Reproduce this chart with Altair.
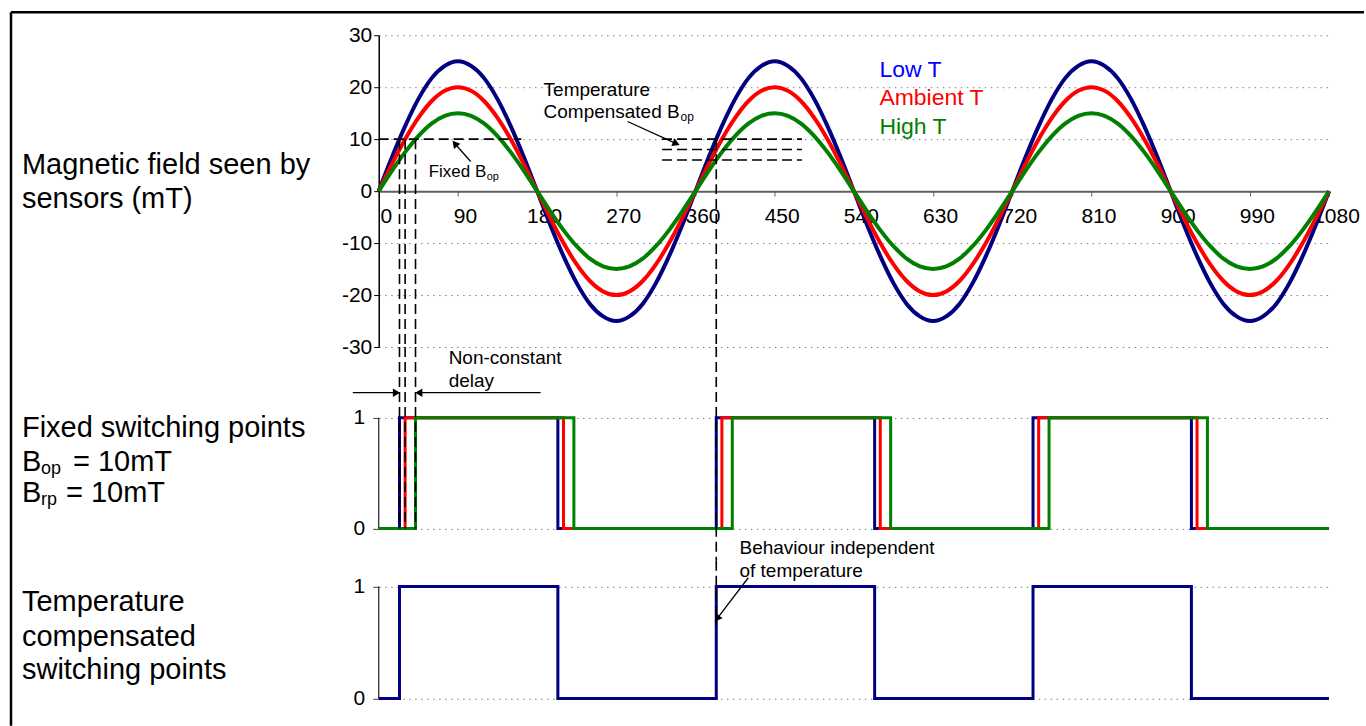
import altair as alt
import pandas as pd

FONT = "Liberation Sans"

# ---------------- data ----------------
angles = list(range(0, 1081, 15))

low_t = [
    0, 6.5, 12.5, 17.7, 21.7, 24.1, 25, 24.1, 21.7, 17.7, 12.5, 6.5,
    0, -6.5, -12.5, -17.7, -21.7, -24.1, -25, -24.1, -21.7, -17.7, -12.5, -6.5,
    0, 6.5, 12.5, 17.7, 21.7, 24.1, 25, 24.1, 21.7, 17.7, 12.5, 6.5,
    0, -6.5, -12.5, -17.7, -21.7, -24.1, -25, -24.1, -21.7, -17.7, -12.5, -6.5,
    0, 6.5, 12.5, 17.7, 21.7, 24.1, 25, 24.1, 21.7, 17.7, 12.5, 6.5,
    0, -6.5, -12.5, -17.7, -21.7, -24.1, -25, -24.1, -21.7, -17.7, -12.5, -6.5,
    0,
]
ambient_t = [
    0, 5.2, 10, 14.1, 17.3, 19.3, 20, 19.3, 17.3, 14.1, 10, 5.2,
    0, -5.2, -10, -14.1, -17.3, -19.3, -20, -19.3, -17.3, -14.1, -10, -5.2,
    0, 5.2, 10, 14.1, 17.3, 19.3, 20, 19.3, 17.3, 14.1, 10, 5.2,
    0, -5.2, -10, -14.1, -17.3, -19.3, -20, -19.3, -17.3, -14.1, -10, -5.2,
    0, 5.2, 10, 14.1, 17.3, 19.3, 20, 19.3, 17.3, 14.1, 10, 5.2,
    0, -5.2, -10, -14.1, -17.3, -19.3, -20, -19.3, -17.3, -14.1, -10, -5.2,
    0,
]
high_t = [
    0, 3.9, 7.5, 10.6, 13, 14.5, 15, 14.5, 13, 10.6, 7.5, 3.9,
    0, -3.9, -7.5, -10.6, -13, -14.5, -15, -14.5, -13, -10.6, -7.5, -3.9,
    0, 3.9, 7.5, 10.6, 13, 14.5, 15, 14.5, 13, 10.6, 7.5, 3.9,
    0, -3.9, -7.5, -10.6, -13, -14.5, -15, -14.5, -13, -10.6, -7.5, -3.9,
    0, 3.9, 7.5, 10.6, 13, 14.5, 15, 14.5, 13, 10.6, 7.5, 3.9,
    0, -3.9, -7.5, -10.6, -13, -14.5, -15, -14.5, -13, -10.6, -7.5, -3.9,
    0,
]

series_names = ["Low T", "Ambient T", "High T"]
line_colors = ["#000080", "#FF0000", "#008000"]
label_colors = ["#0000FF", "#FF0000", "#008000"]
legend_y = [23.4, 18.0, 12.3]
legend_x = 569

# switching edges (degrees) read from the middle / bottom panels
low_edges = [23.6, 203.6, 383.6, 563.6, 743.6, 923.6]
ambient_edges = [30.0, 210.0, 390.0, 570.0, 750.0, 930.0]
high_edges = [41.8, 221.8, 401.8, 581.8, 761.8, 941.8]
comp_edges = [23.6, 203.6, 383.6, 563.6, 743.6, 923.6]

x_ticks = list(range(0, 1081, 90))
field_ticks = [-30, -20, -10, 0, 10, 20, 30]
state_ticks = [0, 1]

fixed_bop = 10
comp_bop = [10, 8, 6]
fixed_cross = [23.6, 30.0, 41.8]
comp_cross = 383.6

# ---------------- layout ----------------
W = 951
HA, HB, HC = 312, 214, 152
XS = alt.Scale(domain=[0, 1080], nice=False, zero=False)
YA = alt.Scale(domain=[-30, 30], nice=False, zero=False)
YB = alt.Scale(domain=[-0.291, 1.637], nice=False, zero=False)
YC = alt.Scale(domain=[-0.128, 1.229], nice=False, zero=False)
GRID = "#808080"
DASH = [10, 5]
PLAIN = "'' + datum.value"

x_axis_a = alt.Axis(
    values=x_ticks, orient="bottom", offset=-HA / 2, title=None, grid=False,
    domainColor="#606060", domainWidth=2, tickColor="#606060", tickSize=5,
    labelFont=FONT, labelFontSize=21, labelColor="black", labelPadding=9, labelOffset=7,
    labelFlush=False, labelOverlap=False, labelExpr=PLAIN,
)
y_axis_a = alt.Axis(
    values=field_ticks, title=None, grid=True, gridColor=GRID, gridDash=[1.5, 4.5],
    gridWidth=1, domainColor="black", domainWidth=1.5, tickColor="black", tickSize=5,
    labelFont=FONT, labelFontSize=21, labelColor="black", labelPadding=2, labelExpr=PLAIN,
)
state_axis = alt.Axis(
    values=state_ticks, title=None, domain=False, grid=True, gridColor=GRID,
    gridDash=[1.5, 4.5], gridWidth=1, tickColor="#404040", tickSize=6,
    labelFont=FONT, labelFontSize=21, labelColor="black", labelPadding=8, labelExpr=PLAIN,
)


class Panel:
    def __init__(self, yscale, xaxis, yaxis):
        self.ys = yscale
        self.xa = xaxis
        self.ya = yaxis
        self.layers = []

    def X(self):
        return alt.X("x:Q", scale=XS, axis=self.xa)

    def Y(self):
        return alt.Y("y:Q", scale=self.ys, axis=self.ya)

    def add(self, layer):
        self.layers.append(layer)

    def line(self, df, color, width, **kw):
        self.add(alt.Chart(df).mark_line(color=color, strokeWidth=width, **kw).encode(
            x=self.X(), y=self.Y(), order="o:Q"))

    def text(self, df, size, color="black", **kw):
        self.add(alt.Chart(df).mark_text(
            align="left", baseline="middle", font=FONT, fontSize=size, color=color, **kw
        ).encode(x=self.X(), y=self.Y(), text="t:N"))

    def dashed_v(self, df):
        self.add(alt.Chart(df).mark_rule(color="black", strokeWidth=1.6, strokeDash=DASH).encode(
            x=self.X(), y=self.Y(), y2="y2:Q"))

    def dashed_h(self, df):
        self.add(alt.Chart(df).mark_rule(color="black", strokeWidth=1.6, strokeDash=DASH).encode(
            x=self.X(), x2="x2:Q", y=self.Y()))

    def segment(self, df, color="black", width=1.3):
        self.add(alt.Chart(df).mark_rule(color=color, strokeWidth=width).encode(
            x=self.X(), x2="x2:Q", y=self.Y(), y2="y2:Q"))

    def vrule(self, df, color, width):
        self.add(alt.Chart(df).mark_rule(color=color, strokeWidth=width).encode(
            x=self.X(), y=self.Y(), y2="y2:Q"))

    def heads(self, df):
        self.add(alt.Chart(df).mark_point(
            shape="triangle", filled=True, color="black", size=70, opacity=1
        ).encode(x=self.X(), y=self.Y(), angle=alt.Angle("a:Q", scale=None)))

    def ptext(self, text, x, y, size, **kw):
        self.add(alt.Chart(pd.DataFrame({"t": [text]})).mark_text(
            align="left", baseline="middle", font=FONT, fontSize=size, color="black", **kw
        ).encode(x=alt.value(x), y=alt.value(y), text="t:N"))

    def chart(self, h):
        return alt.layer(*self.layers).properties(width=W, height=h)


def square(edges):
    xs, ys = [0], [0]
    state = 0
    for e in edges:
        xs += [e, e]
        ys += [state, 1 - state]
        state = 1 - state
    xs.append(1080)
    ys.append(state)
    return pd.DataFrame({"x": xs, "y": ys, "o": list(range(len(xs)))})


# ---------------- panel A: magnetic field ----------------
A = Panel(YA, x_axis_a, y_axis_a)
for vals, col in zip([low_t, ambient_t, high_t], line_colors):
    A.line(pd.DataFrame({"x": angles, "y": vals, "o": list(range(len(angles)))}), col, 4,
           interpolate="monotone")
A.dashed_h(pd.DataFrame({"x": [0], "x2": [162], "y": [fixed_bop]}))
A.dashed_h(pd.DataFrame({"x": [322] * 3, "x2": [481] * 3, "y": comp_bop}))
A.dashed_v(pd.DataFrame({"x": fixed_cross + [comp_cross], "y": [fixed_bop] * 4, "y2": [-30] * 4}))
A.segment(pd.DataFrame({"x": [104.5, 282.8], "x2": [87.4, 336.9], "y": [5.7, 13.4], "y2": [8.98, 9.25]}))
A.heads(pd.DataFrame({"x": [87.4, 336.9], "y": [8.98, 9.25], "a": [320, 114]}))
for name, col, ly in zip(series_names, label_colors, legend_y):
    A.text(pd.DataFrame({"t": [name], "x": [legend_x], "y": [ly]}), 23, color=col)
A.text(pd.DataFrame({"t": ["Fixed B"], "x": [56.8], "y": [3.6]}), 17)
A.text(pd.DataFrame({"t": ["op"], "x": [56.8], "y": [3.6]}), 11, dx=58, dy=5)
A.text(pd.DataFrame({"t": ["Temperature", "Compensated B"], "x": [187.4, 187.4], "y": [19.4, 15.15]}), 19)
A.text(pd.DataFrame({"t": ["op"], "x": [187.4], "y": [15.15]}), 12, dx=137, dy=5)
A.ptext("Magnetic field seen by", -357, 130, 29)
A.ptext("sensors (mT)", -357, 163.5, 29)
# outer frame
frame_df = pd.DataFrame({"k": [0]})
A.add(alt.Chart(frame_df).mark_rule(color="black", strokeWidth=2.5).encode(
    x=alt.value(-368), x2=alt.value(986), y=alt.value(-23)))
A.add(alt.Chart(frame_df).mark_rule(color="black", strokeWidth=2.5).encode(
    x=alt.value(-368), y=alt.value(-23), y2=alt.value(691)))
panel_a = A.chart(HA)

# ---------------- panel B: fixed switching points ----------------
B = Panel(YB, None, state_axis)
B.vrule(pd.DataFrame({"x": [0], "y": [0], "y2": [1]}), "#202020", 1.2)
for edges, col in zip([low_edges, ambient_edges, high_edges], line_colors):
    B.line(square(edges), col, 3)
B.dashed_v(pd.DataFrame({"x": fixed_cross + [comp_cross], "y": [1.637] * 4, "y2": [0, 0, 0, -0.291]}))
B.segment(pd.DataFrame({"x": [-29.5, 184], "x2": [18.8, 46.9], "y": [1.225, 1.225], "y2": [1.225, 1.225]}))
B.heads(pd.DataFrame({"x": [18.8, 46.9], "y": [1.225, 1.225], "a": [90, 270]}))
B.text(pd.DataFrame({"t": ["Non-constant", "delay"], "x": [79.5, 79.5], "y": [1.54, 1.33]}), 19)
B.ptext("Fixed switching points", -357, 81.5, 29)
B.ptext("B", -357, 115, 29)
B.ptext("op", -338, 115, 18, dy=7)
B.ptext("= 10mT", -306, 115, 29)
B.ptext("B", -357, 146, 29)
B.ptext("rp", -338, 146, 18, dy=7)
B.ptext("= 10mT", -313, 146, 29)
panel_b = B.chart(HB)

# ---------------- panel C: temperature compensated ----------------
C = Panel(YC, None, state_axis)
C.vrule(pd.DataFrame({"x": [0], "y": [0], "y2": [1]}), "#202020", 1.2)
C.line(square(comp_edges), line_colors[0], 3)
C.dashed_v(pd.DataFrame({"x": [comp_cross], "y": [1.229], "y2": [0.65]}))
C.segment(pd.DataFrame({"x": [420], "x2": [385.4], "y": [1.078], "y2": [0.722]}))
C.heads(pd.DataFrame({"x": [385.4], "y": [0.722], "a": [217.5]}))
C.text(pd.DataFrame({"t": ["Behaviour independent", "of temperature"], "x": [410, 410], "y": [1.348, 1.14]}), 19)
C.ptext("Temperature", -357, 41, 29)
C.ptext("compensated", -357, 76, 29)
C.ptext("switching points", -357, 109, 29)
panel_c = C.chart(HC)

chart = alt.vconcat(panel_a, panel_b, panel_c, spacing=0, bounds="flush").resolve_scale(
    x="independent", y="independent"
).properties(
    padding={"left": 9, "top": 10, "right": 0, "bottom": 0},
    background="white",
).configure_view(stroke=None)

chart.save("out.html", embed_options={"renderer": "svg", "actions": False})
